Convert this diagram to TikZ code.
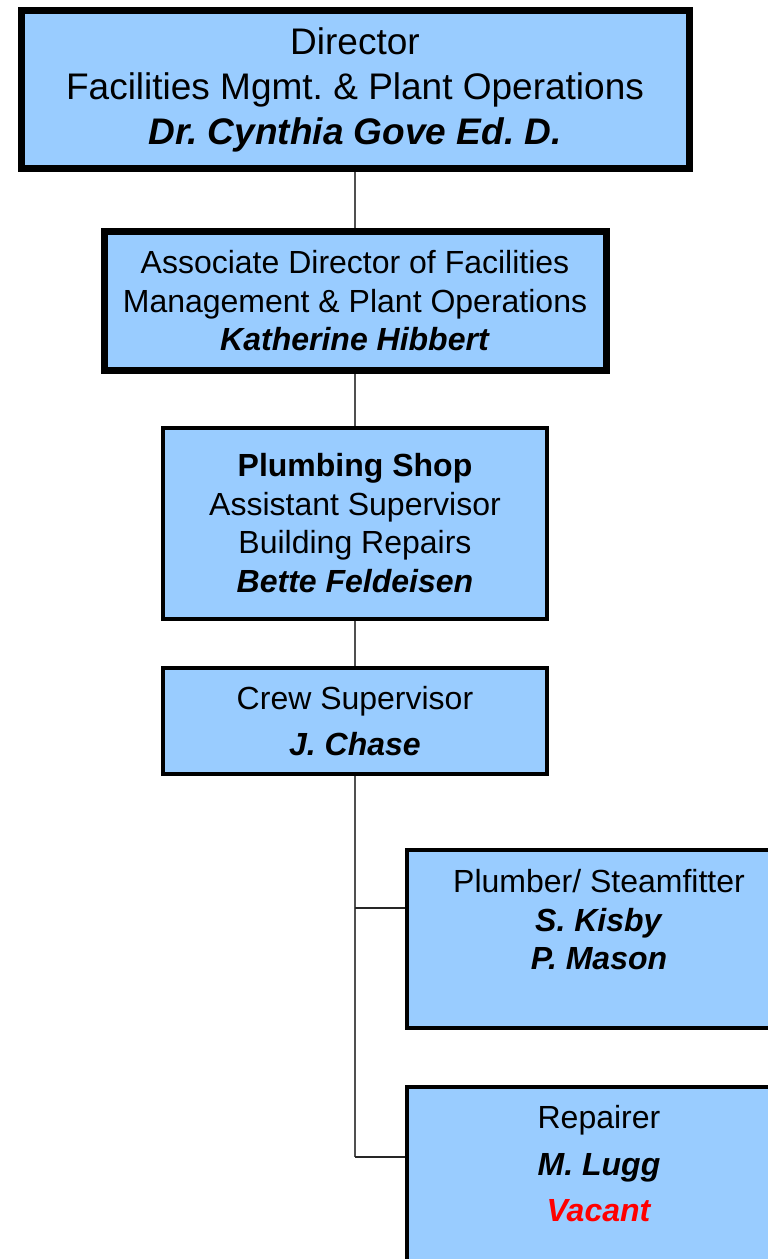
\documentclass[tikz,border=0pt]{standalone}
\usepackage{fontspec}
\setmainfont{Liberation Sans}
\frenchspacing
\definecolor{boxblue}{HTML}{99CCFF}
\definecolor{linegray}{HTML}{505050}
\begin{document}
\begin{tikzpicture}[x=1pt,y=-1pt,
  orgbox/.style={draw=black,fill=boxblue,inner sep=0pt,align=center,text=black},
  heavybox/.style={orgbox,line width=7pt},
  lightbox/.style={orgbox,line width=4pt},
  conn/.style={draw=linegray,line width=1.5pt},
  branch/.style={draw=black!85,line width=2pt}
]
\useasboundingbox (0,0) rectangle (768,1259);
\clip (0,0) rectangle (768,1259);

\node[heavybox,minimum width=668pt,minimum height=158pt,
  font=\fontsize{37}{45}\selectfont] (b1) at (355,89.5)
  {Director\\Facilities Mgmt. \& Plant Operations\\\textbf{\textit{Dr. Cynthia Gove Ed. D.}}};

\node[heavybox,minimum width=502pt,minimum height=139pt,
  font=\fontsize{32}{38.5}\selectfont] (b2) at (355,301)
  {Associate Director of Facilities\\Management \& Plant Operations\\\textbf{\textit{Katherine Hibbert}}};

\node[lightbox,minimum width=383.5pt,minimum height=191pt,
  font=\fontsize{32}{38.5}\selectfont] (b3) at (355,523)
  {\textbf{Plumbing Shop}\\Assistant Supervisor\\Building Repairs\\\textbf{\textit{Bette Feldeisen}}};

\node[lightbox,minimum width=383.5pt,minimum height=106.5pt,
  font=\fontsize{32}{46}\selectfont] (b4) at (355,720.75)
  {Crew Supervisor\\\textbf{\textit{J. Chase}}};

\node[lightbox,minimum width=385pt,minimum height=178.5pt] (b5) at (599,938.75) {};
\node[align=center,inner sep=0pt,font=\fontsize{32}{38.5}\selectfont] (t5) at (599,920)
  {Plumber/ Steamfitter\\\textbf{\textit{S. Kisby}}\\\textbf{\textit{P. Mason}}};

\node[lightbox,minimum width=385pt,minimum height=178.5pt] (b6) at (599,1176.25) {};
\node[align=center,inner sep=0pt,font=\fontsize{32}{46.5}\selectfont] (t6) at (599,1164)
  {Repairer\\\textbf{\textit{M. Lugg}}\\\textcolor{red}{\textbf{\textit{Vacant}}}};

\coordinate (j5) at (355,908.3);
\coordinate (j6) at (355,1157);

\draw[conn] (b1.south) -- (b2.north);
\draw[conn] (b2.south) -- (b3.north);
\draw[conn] (b3.south) -- (b4.north);
\draw[conn] (b4.south) -- (j6);
\draw[branch] (j5) -- (j5 -| b5.west);
\draw[branch] (j6) -- (j6 -| b6.west);
\end{tikzpicture}
\end{document}
